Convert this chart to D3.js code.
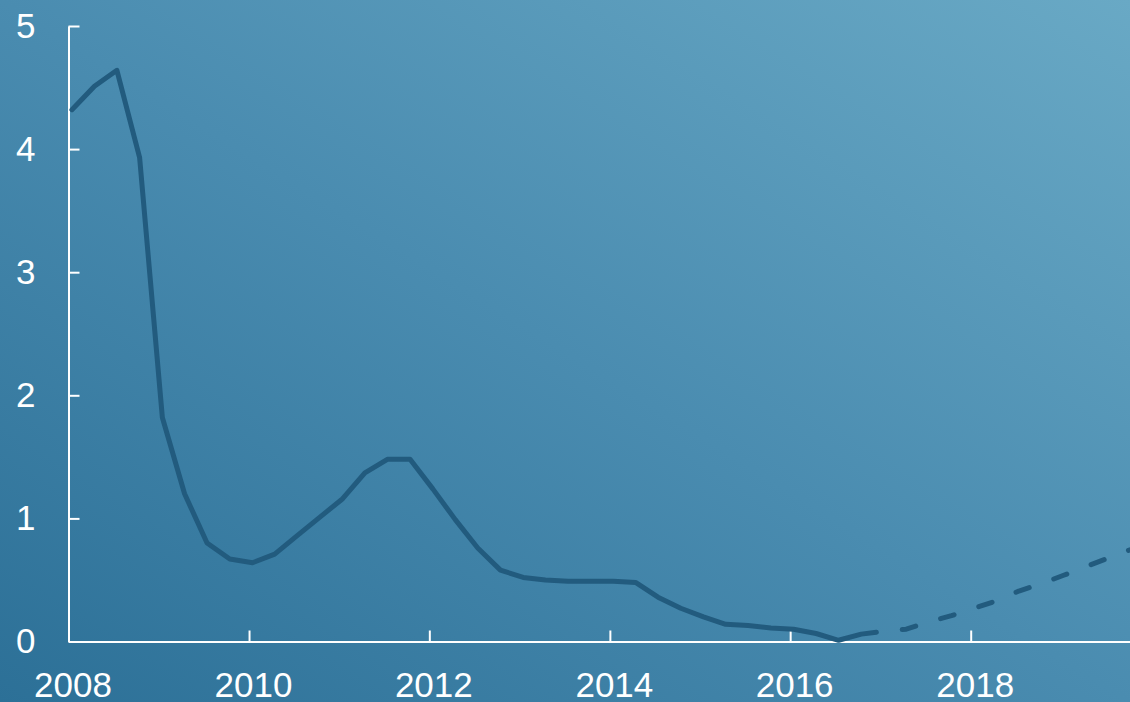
<!DOCTYPE html>
<html>
<head>
<meta charset="utf-8">
<script src="https://cdn.jsdelivr.net/npm/d3@7"></script>
<style>
  html, body { margin: 0; padding: 0; overflow: hidden; }
  svg { display: block; }
  .axis text { font-family: "Liberation Sans", Arial, sans-serif; font-size: 35px; fill: #fff; }
  .axis path, .axis line { stroke: #fff; stroke-width: 2; }
</style>
</head>
<body>
<div id="chart"></div>
<script>
// actual quarterly values
const actualDates = [
  '2008-01-15', '2008-04-15', '2008-07-15', '2008-10-15',
  '2009-01-15', '2009-04-15', '2009-07-15', '2009-10-15',
  '2010-01-15', '2010-04-15', '2010-07-15', '2010-10-15',
  '2011-01-15', '2011-04-15', '2011-07-15', '2011-10-15',
  '2012-01-15', '2012-04-15', '2012-07-15', '2012-10-15',
  '2013-01-15', '2013-04-15', '2013-07-15', '2013-10-15',
  '2014-01-15', '2014-04-15', '2014-07-15', '2014-10-15',
  '2015-01-15', '2015-04-15', '2015-07-15', '2015-10-15',
  '2016-01-15', '2016-04-15', '2016-07-15', '2016-10-15',
  '2016-12-15'
];
const actualValues = [
  4.32, 4.51, 4.64, 3.93,
  1.82, 1.20, 0.80, 0.67,
  0.64, 0.71, 0.86, 1.01,
  1.16, 1.37, 1.48, 1.48,
  1.24, 0.99, 0.76, 0.58,
  0.52, 0.50, 0.49, 0.49,
  0.49, 0.48, 0.36, 0.27,
  0.20, 0.14, 0.13, 0.11,
  0.10, 0.065, 0.01, 0.06,
  0.075
];

// projected values (dashed)
const forecastDates = [
  '2016-12-15', '2017-04-15', '2017-07-15', '2017-10-15',
  '2018-01-15', '2018-04-15', '2018-07-15', '2018-10-15',
  '2019-01-15', '2019-04-15', '2019-07-15', '2019-10-15'
];
const forecastValues = [
  0.075, 0.10, 0.16, 0.21,
  0.27, 0.33, 0.41, 0.47,
  0.54, 0.61, 0.68, 0.75
];

const yTicks = [0, 1, 2, 3, 4, 5];
const xTickYears = [2008, 2010, 2012, 2014, 2016, 2018];

const width = 1130,
      height = 702;

const parse = d3.timeParse('%Y-%m-%d');
const actual = actualDates.map((d, i) => ({ date: parse(d), value: actualValues[i] }));
const forecast = forecastDates.map((d, i) => ({ date: parse(d), value: forecastValues[i] }));

const svg = d3.select('#chart')
              .append('svg')
              .attr('width', width)
              .attr('height', height);

// background gradient
const grad = svg.append('defs')
  .append('linearGradient')
  .attr('id', 'bg')
  .attr('x1', 0).attr('y1', 1)
  .attr('x2', 1).attr('y2', 0);
grad.append('stop').attr('offset', '0%').attr('stop-color', '#2c7097');
grad.append('stop').attr('offset', '50%').attr('stop-color', '#4a8cb0');
grad.append('stop').attr('offset', '100%').attr('stop-color', '#69a9c5');

svg.append('rect')
  .attr('width', width)
  .attr('height', height)
  .attr('fill', 'url(#bg)');

const x = d3.scaleTime()
            .domain([new Date(2008, 0, 1), new Date(2019, 9, 8)])
            .range([68.5, 1130]);

const y = d3.scaleLinear()
            .domain([0, 5])
            .range([641.5, 26]);

const line = d3.line()
               .x(d => x(d.date))
               .y(d => y(d.value));

// axes
svg.append('g')
  .attr('class', 'axis')
  .attr('transform', 'translate(0,0)')
  .call(d3.axisLeft(y)
          .tickValues(yTicks)
          .tickSizeInner(-11)
          .tickSizeOuter(0)
          .tickPadding(33)
          .tickFormat(d3.format('d')))
  .attr('transform', `translate(${x.range()[0]},0)`);

svg.append('g')
  .attr('class', 'axis')
  .attr('transform', `translate(0,${y(0)})`)
  .call(d3.axisBottom(x)
          .tickValues(xTickYears.map(yr => new Date(yr, 0, 1)))
          .tickSizeInner(-11)
          .tickSizeOuter(0)
          .tickPadding(31)
          .tickFormat(d3.timeFormat('%Y')))
  .selectAll('text')
  .attr('dx', 4);

// lines
svg.append('path')
  .datum(actual)
  .attr('fill', 'none')
  .attr('stroke', '#225b7e')
  .attr('stroke-width', 5)
  .attr('stroke-linejoin', 'round')
  .attr('stroke-linecap', 'round')
  .attr('d', line);

svg.append('path')
  .datum(forecast)
  .attr('fill', 'none')
  .attr('stroke', '#225b7e')
  .attr('stroke-width', 5)
  .attr('stroke-linejoin', 'round')
  .attr('stroke-linecap', 'round')
  .attr('stroke-dasharray', '14,26')
  .attr('stroke-dashoffset', 14)
  .attr('d', line);
</script>
</body>
</html>
